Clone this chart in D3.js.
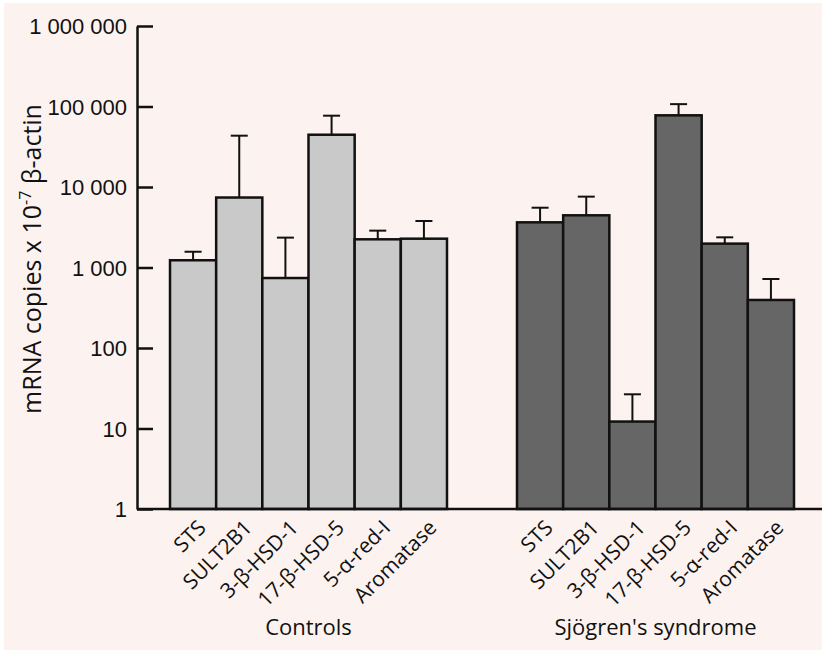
<!DOCTYPE html>
<html>
<head>
<meta charset="utf-8">
<script src="https://cdn.jsdelivr.net/npm/d3@7"></script>
<style>
  body { margin: 0; background: #ffffff; }
  svg { display: block; font-family: "Open Sans", "Liberation Sans", Arial, sans-serif; }
  .axis text { font-size: 22px; fill: #111; }
  .axis path, .axis line { stroke: #111; stroke-width: 2.5px; }
</style>
</head>
<body>
<svg id="chart"></svg>
<script>
// data (mRNA copies x 10^-7 beta-actin, log scale)
const groups = ['Controls', "Sjögren's syndrome"];
const genes = ['STS', 'SULT2B1', '3-β-HSD-1', '17-β-HSD-5', '5-α-red-I', 'Aromatase'];
const controlsMean = [1230, 7400, 740, 44600, 2240, 2280];
const controlsErr = [1570, 43400, 2350, 76900, 2870, 3780];
const sjogrenMean = [3640, 4450, 12.2, 77700, 1980, 395];
const sjogrenErr = [5530, 7590, 26.6, 107000, 2370, 720];
const yTicks = [1, 10, 100, 1000, 10000, 100000, 1000000];
const groupFill = ['#c9c9c9', '#666666'];

const WIDTH = 822, HEIGHT = 650;
const margin = {top: 26, right: 0, bottom: 141, left: 137};
const height = HEIGHT - margin.top - margin.bottom;

const rows = groups.map((g, gi) => ({
  group: g,
  fill: groupFill[gi],
  values: genes.map((gene, i) => ({
    gene: gene,
    mean: gi === 0 ? controlsMean[i] : sjogrenMean[i],
    err: gi === 0 ? controlsErr[i] : sjogrenErr[i]
  }))
}));

const svg = d3.select('#chart')
  .attr('width', WIDTH)
  .attr('height', HEIGHT);

svg.append('rect')
  .attr('x', 4).attr('y', 3)
  .attr('width', WIDTH - 4).attr('height', HEIGHT - 3)
  .attr('fill', '#fcf3f0');

const g = svg.append('g')
  .attr('transform', `translate(${margin.left},${margin.top})`);

const x0 = d3.scaleBand()
  .domain(groups)
  .range([33, 657])
  .paddingInner(70 / 347)
  .paddingOuter(0);

const x1 = d3.scaleBand()
  .domain(genes)
  .range([0, x0.bandwidth()])
  .padding(0);

const y = d3.scaleLog()
  .domain([1, 1000000])
  .range([height, 0]);

const fmt = d3.formatLocale({decimal: '.', thousands: ' ', grouping: [3], currency: ['', '']}).format(',d');

// bars
const groupG = g.selectAll('.grp')
  .data(rows)
  .enter().append('g')
  .attr('class', 'grp')
  .attr('transform', d => `translate(${x0(d.group)},0)`);

groupG.selectAll('.bar')
  .data(d => d.values.map(v => Object.assign({fill: d.fill}, v)))
  .enter().append('rect')
  .attr('class', 'bar')
  .attr('x', d => x1(d.gene))
  .attr('y', d => y(d.mean))
  .attr('width', x1.bandwidth())
  .attr('height', d => y(1) - y(d.mean))
  .attr('fill', d => d.fill)
  .attr('stroke', '#111')
  .attr('stroke-width', 2.5);

// error bars (upper only)
const capHalf = 8.5;
const err = groupG.selectAll('.err')
  .data(d => d.values)
  .enter().append('g')
  .attr('class', 'err')
  .attr('transform', d => `translate(${x1(d.gene) + x1.bandwidth() / 2},0)`);

err.append('line')
  .attr('x1', 0).attr('x2', 0)
  .attr('y1', d => y(d.mean))
  .attr('y2', d => y(d.err))
  .attr('stroke', '#111')
  .attr('stroke-width', 2);

err.append('line')
  .attr('x1', -capHalf).attr('x2', capHalf)
  .attr('y1', d => y(d.err))
  .attr('y2', d => y(d.err))
  .attr('stroke', '#111')
  .attr('stroke-width', 2);

// y axis: ticks point inward, labels on the left
const yAxis = d3.axisLeft(y)
  .tickValues(yTicks)
  .tickFormat(fmt)
  .tickSizeInner(-16)
  .tickSizeOuter(0)
  .tickPadding(10);

g.append('g')
  .attr('class', 'axis y')
  .call(yAxis)
  .call(a => a.selectAll('text').attr('dy', '0.36em'));

// x axis baseline
g.append('line')
  .attr('x1', 0).attr('x2', WIDTH - margin.left)
  .attr('y1', y(1)).attr('y2', y(1))
  .attr('stroke', '#111')
  .attr('stroke-width', 2.5);

// category labels, rotated 45 degrees
groupG.selectAll('.cat')
  .data(genes)
  .enter().append('g')
  .attr('class', 'cat')
  .attr('transform', d => `translate(${x1(d) + x1.bandwidth() / 2 + 14},${y(1) + 20})`)
  .append('text')
  .attr('transform', 'rotate(-45)')
  .attr('text-anchor', 'end')
  .attr('font-size', 21)
  .attr('fill', '#111')
  .text(d => d);

// group labels
groupG.append('text')
  .attr('x', x0.bandwidth() / 2)
  .attr('y', y(1) + 126)
  .attr('text-anchor', 'middle')
  .attr('font-size', 22)
  .attr('fill', '#111')
  .text(d => d.group);

// y axis title
const yTitle = svg.append('text')
  .attr('transform', `translate(41,${margin.top + 233}) rotate(-90)`)
  .attr('text-anchor', 'middle')
  .attr('font-size', 25)
  .attr('fill', '#111');
yTitle.append('tspan').text('mRNA copies x 10');
yTitle.append('tspan').attr('dy', -10).attr('font-size', 16).text('-7');
yTitle.append('tspan').attr('dy', 10).text(' β-actin');
</script>
</body>
</html>
